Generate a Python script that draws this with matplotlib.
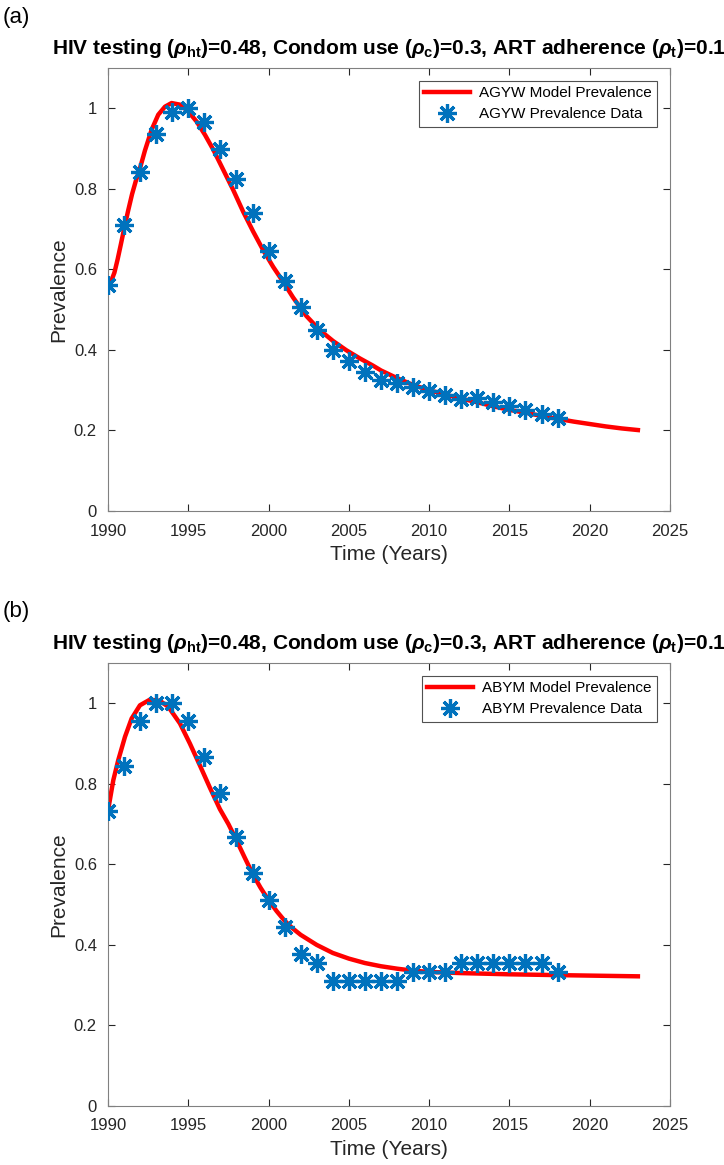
import numpy as np
import matplotlib
matplotlib.use("Agg")
import matplotlib.pyplot as plt

plt.rcParams['font.family'] = ['Liberation Sans', 'DejaVu Sans']
plt.rcParams['mathtext.fontset'] = 'custom'
plt.rcParams['mathtext.rm'] = 'Liberation Sans:bold'
plt.rcParams['mathtext.it'] = 'Liberation Sans:bold:italic'
plt.rcParams['mathtext.bf'] = 'Liberation Sans:bold'

# data years
data_years = list(range(1990, 2019))

# AGYW prevalence data (normalised)
agyw_data = [0.560, 0.710, 0.842, 0.937, 0.990, 1.000, 0.965, 0.900, 0.825, 0.740,
             0.646, 0.571, 0.506, 0.449, 0.400, 0.373, 0.344, 0.325, 0.317, 0.308,
             0.298, 0.288, 0.279, 0.281, 0.271, 0.261, 0.252, 0.242, 0.231]

# ABYM prevalence data (normalised)
abym_data = [0.733, 0.844, 0.956, 1.000, 1.000, 0.956, 0.867, 0.778, 0.667, 0.578,
             0.511, 0.444, 0.378, 0.356, 0.311, 0.311, 0.311, 0.311, 0.311, 0.333,
             0.333, 0.333, 0.356, 0.356, 0.356, 0.356, 0.356, 0.356, 0.333]

# model curves
agyw_model_t = [1990.0, 1990.2, 1990.4, 1990.6, 1990.8, 1991.0, 1991.25, 1991.5,
                1991.75, 1992.0, 1992.3, 1992.72, 1993.13, 1993.55, 1993.96, 1994.48,
                1995.0, 1995.52, 1996.04, 1996.56, 1997.18, 1997.80, 1998.42, 1999.04,
                1999.66, 2000.29, 2000.91, 2001.53, 2002.36, 2003.19, 2004.02, 2004.85,
                2005.68, 2006.5, 2007.0, 2008.0, 2009.0, 2010.0, 2011.0, 2012.0,
                2013.0, 2014.0, 2015.0, 2016.0, 2017.0, 2018.0, 2019.0, 2020.0,
                2021.0, 2022.0, 2023.0]
agyw_model = [0.561, 0.571, 0.592, 0.625, 0.662, 0.700, 0.745, 0.787,
              0.822, 0.852, 0.895, 0.947, 0.984, 1.004, 1.013, 1.009,
              0.992, 0.967, 0.934, 0.897, 0.847, 0.797, 0.743, 0.694,
              0.648, 0.606, 0.569, 0.530, 0.484, 0.449, 0.422, 0.399,
              0.379, 0.361, 0.349, 0.330, 0.313, 0.300, 0.289, 0.279,
              0.270, 0.260, 0.251, 0.244, 0.236, 0.229, 0.222, 0.216,
              0.210, 0.205, 0.201]

abym_model_t = [1990.0, 1990.33, 1990.64, 1991.06, 1991.47, 1991.99, 1992.61, 1993.24,
                1993.76, 1994.48, 1995.10, 1995.72, 1996.35, 1996.97, 1997.5, 1998.0,
                1998.5, 1999.0, 1999.5, 2000.0, 2000.5, 2001.0, 2001.5, 2002.0,
                2003.0, 2004.0, 2005.0, 2006.0, 2007.0, 2008.0, 2009.0, 2010.0,
                2012.0, 2015.0, 2018.0, 2023.0]
abym_model = [0.733, 0.809, 0.859, 0.917, 0.962, 0.995, 1.009, 1.006,
              0.991, 0.950, 0.900, 0.846, 0.790, 0.737, 0.700, 0.660,
              0.618, 0.577, 0.542, 0.511, 0.484, 0.460, 0.441, 0.425,
              0.400, 0.380, 0.366, 0.355, 0.347, 0.341, 0.336, 0.333,
              0.330, 0.327, 0.325, 0.322]

x_ticks = [1990, 1995, 2000, 2005, 2010, 2015, 2020, 2025]
y_ticks = [0, 0.2, 0.4, 0.6, 0.8, 1]
y_tick_labels = ['0', '0.2', '0.4', '0.6', '0.8', '1']

title = (r'HIV testing ($\rho_{\mathrm{ht}}$)=0.48, Condom use ($\rho_{\mathrm{c}}$)=0.3, '
         r'ART adherence ($\rho_{\mathrm{t}}$)=0.1')

panels = [
    ('(a)', agyw_model_t, agyw_model, agyw_data, 'AGYW Model Prevalence', 'AGYW Prevalence Data'),
    ('(b)', abym_model_t, abym_model, abym_data, 'ABYM Model Prevalence', 'ABYM Prevalence Data'),
]

fig = plt.figure(figsize=(7.24, 11.65), dpi=100)
W, H = 724, 1165
axes_box = [(108, 68, 670, 511), (108, 663, 670, 1106)]
text_col = '#262626'
marker = (8, 2, 0)

for (lab, mt, mv, dv, lname, dname), (x0, y0, x1, y1) in zip(panels, axes_box):
    ax = fig.add_axes([x0 / W, 1 - y1 / H, (x1 - x0) / W, (y1 - y0) / H])
    ax.plot(mt, mv, color='red', linewidth=3.2, label=lname, zorder=2)
    ax.plot(data_years, dv, linestyle='none', marker=marker, markersize=13.5,
            markeredgewidth=2.3, color='#0072BD', label=dname, zorder=3)
    ax.set_xlim(1990, 2025)
    ax.set_ylim(0, 1.1)
    ax.set_xticks(x_ticks)
    ax.set_yticks(y_ticks)
    ax.set_yticklabels(y_tick_labels)
    ax.tick_params(direction='in', top=True, right=True, labelsize=12,
                   colors=text_col, length=5, width=0.8)
    ax.tick_params(axis='x', pad=9)
    ax.tick_params(axis='y', pad=8)
    for s in ax.spines.values():
        s.set_color('#808080')
        s.set_linewidth(0.8)
    ax.set_xlabel('Time (Years)', fontsize=15, color=text_col, labelpad=5)
    ax.set_ylabel('Prevalence', fontsize=15, color=text_col, labelpad=4)
    ax.set_title(title, fontsize=15, fontweight='bold', color='black', pad=10)
    leg = ax.legend(loc='upper right', fontsize=11, frameon=True, fancybox=False,
                    borderaxespad=0.85, handlelength=3.0, handletextpad=0.6,
                    borderpad=0.35, labelspacing=0.45)
    leg.get_frame().set_edgecolor('#262626')
    leg.get_frame().set_linewidth(0.8)
    fig.text(3 / W, 1 - (y0 - 51) / H, lab, fontsize=16, ha='left', va='center', color='black')

fig.savefig('out.png', dpi=100)
